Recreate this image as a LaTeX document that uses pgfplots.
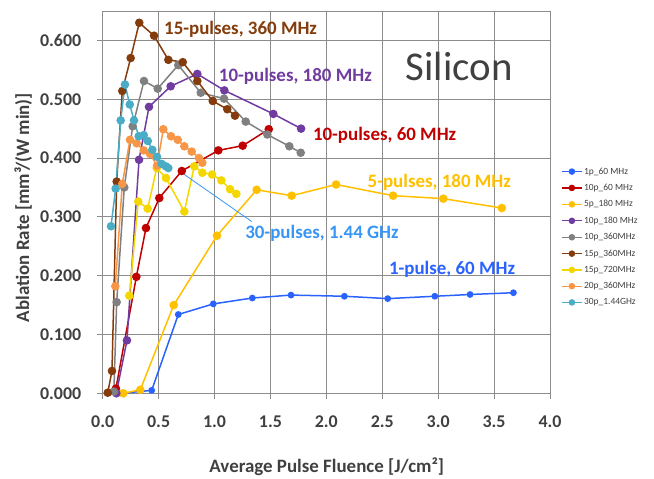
\documentclass[border=0pt]{standalone}
\usepackage{pgfplots}
\pgfplotsset{compat=1.18}
\usepackage{fontspec}
\setmainfont{Carlito}
\definecolor{c1p}{RGB}{41,98,255}
\definecolor{c10p60}{RGB}{192,0,0}
\definecolor{c5p}{RGB}{255,192,0}
\definecolor{c10p180}{RGB}{112,60,160}
\definecolor{c10p360}{RGB}{128,128,128}
\definecolor{c15p360}{RGB}{132,60,12}
\definecolor{c15p720}{RGB}{245,215,0}
\definecolor{c20p}{RGB}{247,150,70}
\definecolor{c30p}{RGB}{75,172,198}
\definecolor{lbl30}{RGB}{55,150,245}
\definecolor{txt}{RGB}{64,64,64}
\definecolor{gridc}{RGB}{140,140,140}
\begin{document}
\begin{tikzpicture}
\path[use as bounding box] (0,0) rectangle (654bp,479bp);
\begin{axis}[
  at={(102.7bp,85.7bp)}, anchor=south west,
  scale only axis, width=447.3bp, height=382.3bp,
  xmin=0, xmax=4, ymin=0, ymax=0.65,
  xtick={0,0.5,...,4}, ytick={0,0.1,0.2,0.3,0.4,0.5,0.6},
  grid=major, major grid style={gridc, line width=0.8bp},
  axis line style={gridc, line width=0.9bp},
  tick align=outside, major tick length=6bp,
  tick style={gridc, line width=0.8bp},
  xtick pos=bottom, ytick pos=left,
  /pgf/number format/assume math mode=true,
  tick label style={font=\fontsize{18}{20}\selectfont\bfseries, text=txt},
  xticklabel style={/pgf/number format/.cd, fixed, fixed zerofill, precision=1, /tikz/.cd, yshift=-13bp},
  yticklabel style={/pgf/number format/.cd, fixed, fixed zerofill, precision=3, /tikz/.cd, xshift=-12bp},
  xlabel={Average Pulse Fluence [J/cm²]},
  ylabel={Ablation Rate [mm³/(W min)]},
  label style={font=\fontsize{19}{21}\selectfont\bfseries, text=txt},
  xlabel style={at={(axis description cs:0.501,-0.193)}, anchor=center},
  ylabel style={at={(axis description cs:-0.178,0.486)}, anchor=center},
  legend style={at={(1.018,0.60)}, anchor=north west, draw=none, fill=none,
    font=\fontsize{9.5}{11}\selectfont, text=txt, row sep=5.5bp,
    nodes={inner sep=1.5bp}},
  legend cell align=left,
  legend image code/.code={\draw[mark repeat=2,mark phase=2,line width=1.3bp, mark size=2.6bp] plot coordinates {(0bp,0bp) (10bp,0bp) (20bp,0bp)};},
  every axis plot/.append style={line width=1.5bp, mark=*, mark size=3.5bp},
  clip=false,
]
\addplot[c1p, mark options={fill=c1p}, mark size=2.6bp] coordinates {
(0.17,0.0) (0.438,0.005) (0.676,0.134) (0.989,0.152) (1.338,0.162) (1.684,0.167)
(2.161,0.165) (2.549,0.161) (2.970,0.165) (3.285,0.168) (3.673,0.171)};
\addlegendentry{1p\_60 MHz}
\addplot[c10p60, mark options={fill=c10p60}] coordinates {
(0.118,0.008) (0.301,0.198) (0.387,0.281) (0.506,0.332) (0.707,0.378)
(1.034,0.413) (1.252,0.421) (1.485,0.449)};
\addlegendentry{10p\_60 MHz}
\addplot[c5p, mark options={fill=c5p}] coordinates {
(0.184,0.0) (0.336,0.006) (0.635,0.150) (1.022,0.268) (1.377,0.346) (1.690,0.336)
(2.087,0.355) (2.597,0.336) (3.046,0.331) (3.569,0.315)};
\addlegendentry{5p\_180 MHz}
\addplot[c10p180, mark options={fill=c10p180}] coordinates {
(0.122,0.0) (0.217,0.090) (0.325,0.397) (0.414,0.487) (0.608,0.522)
(0.846,0.543) (1.088,0.515) (1.526,0.475) (1.774,0.450)};
\addlegendentry{10p\_180 MHz}
\addplot[c10p360, mark options={fill=c10p360}] coordinates {
(0.10,0.003) (0.125,0.155) (0.193,0.350) (0.268,0.454) (0.369,0.531) (0.492,0.518)
(0.676,0.558) (0.877,0.511) (1.085,0.501) (1.279,0.462) (1.472,0.440)
(1.669,0.420) (1.771,0.409)};
\addlegendentry{10p\_360MHz}
\addplot[c15p360, mark options={fill=c15p360}] coordinates {
(0.045,0.001) (0.083,0.038) (0.125,0.360) (0.175,0.514) (0.250,0.570) (0.327,0.630)
(0.459,0.608) (0.587,0.567) (0.716,0.563) (0.846,0.531) (0.984,0.497)
(1.114,0.483) (1.183,0.472)};
\addlegendentry{15p\_360MHz}
\addplot[c15p720, mark options={fill=c15p720}] coordinates {
(0.238,0.166) (0.318,0.326) (0.402,0.314) (0.483,0.383) (0.566,0.366)
(0.730,0.309) (0.819,0.386) (0.891,0.375) (0.978,0.372) (1.061,0.362)
(1.139,0.347) (1.195,0.339)};
\addlegendentry{15p\_720MHz}
\addplot[c20p, mark options={fill=c20p}] coordinates {
(0.113,0.182) (0.175,0.356) (0.244,0.431) (0.304,0.425) (0.367,0.413)
(0.423,0.407) (0.486,0.387) (0.542,0.449) (0.611,0.437) (0.671,0.431)
(0.730,0.420) (0.796,0.411) (0.861,0.400) (0.891,0.392)};
\addlegendentry{20p\_360MHz}
\addplot[c30p, mark options={fill=c30p}] coordinates {
(0.074,0.284) (0.116,0.348) (0.161,0.464) (0.199,0.525) (0.242,0.491)
(0.280,0.464) (0.322,0.437) (0.367,0.439) (0.403,0.429) (0.444,0.414)
(0.486,0.402) (0.528,0.390) (0.564,0.386) (0.587,0.383)};
\addlegendentry{30p\_1.44GHz}
\draw[lbl30, line width=0.8bp] (axis cs:0.707,0.375) -- (axis cs:1.333,0.292);
\node[font=\fontsize{19}{21}\selectfont\bfseries, text=c15p360] at (axis cs:1.233,0.618) {15-pulses, 360 MHz};
\node[font=\fontsize{19}{21}\selectfont\bfseries, text=c10p180] at (axis cs:1.723,0.539) {10-pulses, 180 MHz};
\node[font=\fontsize{19}{21}\selectfont\bfseries, text=c10p60] at (axis cs:2.521,0.438) {10-pulses, 60 MHz};
\node[font=\fontsize{19}{21}\selectfont\bfseries, text=c5p] at (axis cs:3.010,0.359) {5-pulses, 180 MHz};
\node[font=\fontsize{19}{21}\selectfont\bfseries, text=lbl30] at (axis cs:1.961,0.272) {30-pulses, 1.44 GHz};
\node[font=\fontsize{19}{21}\selectfont\bfseries, text=c1p] at (axis cs:3.124,0.210) {1-pulse, 60 MHz};
\node[font=\fontsize{41}{45}\selectfont, text=txt] at (axis cs:3.188,0.556) {Silicon};
\end{axis}
\end{tikzpicture}
\end{document}
